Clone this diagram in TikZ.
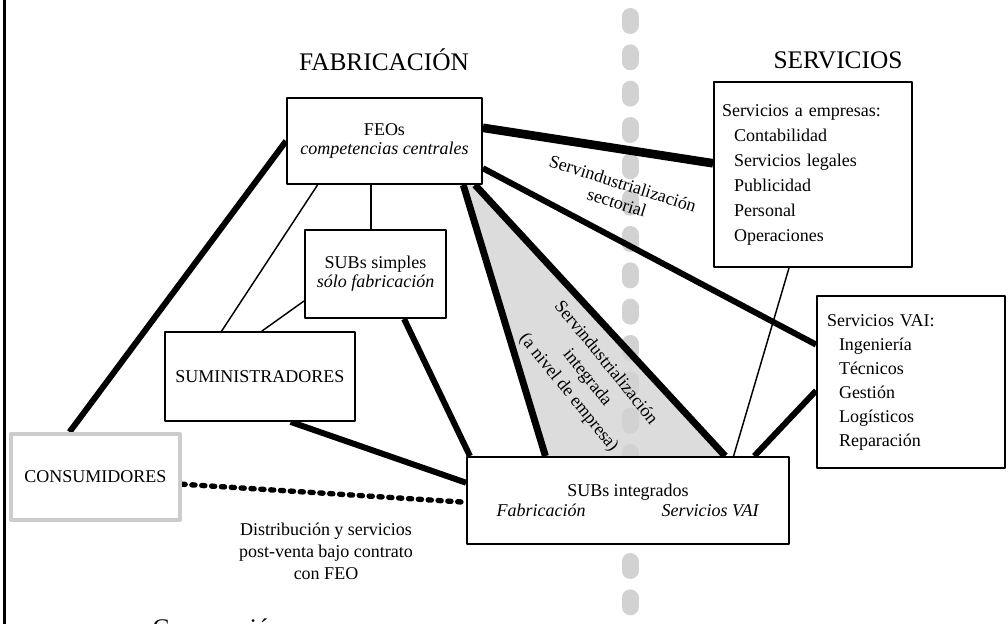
\documentclass[tikz,border=0pt]{standalone}
\usepackage{fontspec}
\setmainfont{Liberation Serif}
\usetikzlibrary{calc,backgrounds}
\definecolor{dashgray}{HTML}{D2D2D2}
\definecolor{softgray}{HTML}{DCDCDC}
\definecolor{framegray}{HTML}{CCCCCC}
\newcommand{\boxfont}{\fontsize{13.5}{14.5}\selectfont}
\newcommand{\listfont}{\fontsize{13.5}{18}\selectfont}
\newcommand{\titlefont}{\fontsize{19}{22}\selectfont}
\tikzset{
    every picture/.style={line join=round},
    orgbox/.style={draw=black,fill=white,line width=1.4pt,inner sep=2pt,
      align=center,font=\boxfont},
    listbox/.style={orgbox,align=left,font=\listfont},
    headline/.style={font=\titlefont},
    notelabel/.style={align=center,inner sep=1pt},
    tielink/.style={draw=black,line width=1.1pt},
    stronglink/.style={draw=black,line width=4.5pt},
    wedgelink/.style={draw=black,line width=5.2pt},
    sectorlink/.style={draw=black,line width=6.5pt},
    dotlink/.style={draw=black,line width=4pt,line cap=round,
      dash pattern=on 2.4pt off 5pt}
}
\begin{document}
\begin{tikzpicture}[x=0.75pt,y=-0.75pt]
  \useasboundingbox (0,0) rectangle (1008,624);
  \node[headline] (fab) at (384,60) {FABRICACIÓN};
  \node[headline] (serv) at (838,60) {SERVICIOS};
  \node[orgbox,minimum width=146.25pt,minimum height=64.5pt] (feo) at (384.5,141)
    {FEOs\\\textit{competencias centrales}};
  \node[orgbox,minimum width=105.75pt,minimum height=66pt] (sss) at (375.5,274)
    {SUBs simples\\\textit{sólo fabricación}};
  \node[orgbox,minimum width=142.5pt,minimum height=66.75pt] (sum) at (260,376.5)
    {SUMINISTRADORES};
  \node[orgbox,draw=framegray,line width=3pt,minimum width=126.75pt,minimum height=64.5pt]
    (con) at (95.5,477) {CONSUMIDORES};
  \node[orgbox,minimum width=241.5pt,minimum height=65.25pt] (subi) at (628,500.5)
    {SUBs integrados\\[1pt]\textit{Fabricación}\hspace{57pt}\textit{Servicios VAI}};
  \node[listbox,font=\fontsize{13.5}{18.75}\selectfont,inner xsep=6pt,text width=136.5pt,
    minimum height=138.75pt] (svemp) at (813,174.5)
    {Servicios a empresas:\\
     \hspace*{9pt}Contabilidad\\
     \hspace*{9pt}Servicios legales\\
     \hspace*{9pt}Publicidad\\
     \hspace*{9pt}Personal\\
     \hspace*{9pt}Operaciones};
  \node[listbox,inner xsep=7.5pt,text width=126pt,minimum height=129pt] (vai) at (911,382)
    {Servicios VAI:\\
     \hspace*{9pt}Ingeniería\\
     \hspace*{9pt}Técnicos\\
     \hspace*{9pt}Gestión\\
     \hspace*{9pt}Logísticos\\
     \hspace*{9pt}Reparación};
  \node[notelabel,font=\fontsize{13.5}{14.8}\selectfont,rotate=-17.5] (sector) at (620,193)
    {Servindustrialización\\sectorial};
  \node[notelabel,font=\fontsize{13.5}{17.8}\selectfont,rotate=-51] (integ) at (587,378)
    {Servindustrialización\\integrada\\(a nivel de empresa)};
  \node[notelabel,font=\fontsize{13.5}{16.5}\selectfont] (distr) at (326,551)
    {Distribución y servicios\\post-venta bajo contrato\\con FEO};
  \node[headline,anchor=base west] (coop) at (148,636) {Cooperación};
  \begin{scope}[on background layer]
    \coordinate (wl) at ($(feo.south west)!0.9!(feo.south east)$);
    \coordinate (wr) at ($(feo.south west)!0.96!(feo.south east)$);
    \coordinate (bl) at ($(subi.north west)!0.245!(subi.north east)$);
    \coordinate (br) at ($(subi.north west)!0.8!(subi.north east)$);
    \fill[softgray] (wl) -- (wr) -- (br) -- (bl) -- cycle;
    \draw[dashgray,line width=12.75pt,line cap=round,dash pattern=on 6.75pt off 20.5pt]
      (630,16.5) -- (630,650);
    \draw[line width=1.8pt] (4.5,-5) -- (4.5,630);
    \draw[wedgelink] (wl) -- (bl);
    \draw[wedgelink] (wr) -- (br);
    \draw[stronglink] (feo.west) -- ($(con.north west)!0.35!(con.north east)$);
    \draw[tielink] ($(feo.south west)!0.16!(feo.south east)$) -- ($(sum.north west)!0.3!(sum.north east)$);
    \draw[tielink] ($(sss.north west)!0.47!(sss.north east)$) coordinate (sstop) -- (sstop |- feo.south);
    \draw[tielink] ($(sss.north west)!0.8!(sss.south west)$) -- ($(sum.north west)!0.51!(sum.north east)$);
    \draw[stronglink] ($(sum.south west)!0.66!(sum.south east)$) -- ($(subi.north west)!0.3!(subi.south west)$);
    \draw[stronglink] ($(sss.south west)!0.7!(sss.south east)$) -- ($(subi.north west)!0.012!(subi.north east)$);
    \draw[sectorlink] ($(feo.north east)!0.35!(feo.south east)$) -- ($(svemp.north west)!0.44!(svemp.south west)$);
    \draw[stronglink] ($(feo.north east)!0.81!(feo.south east)$) -- ($(vai.north west)!0.285!(vai.south west)$);
    \draw[tielink] ($(svemp.south west)!0.38!(svemp.south east)$) -- ($(subi.north west)!0.826!(subi.north east)$);
    \draw[stronglink] ($(vai.north west)!0.55!(vai.south west)$) -- ($(subi.north west)!0.89!(subi.north east)$);
    \draw[dotlink] ($(con.north east)!0.58!(con.south east)$) -- ($(subi.north west)!0.52!(subi.south west)$);
  \end{scope}
\end{tikzpicture}
\end{document}
